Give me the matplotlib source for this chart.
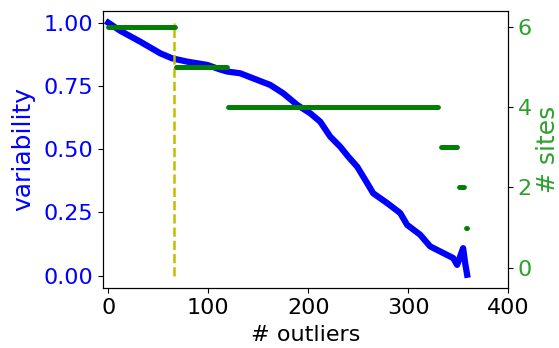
import numpy as np
import matplotlib
matplotlib.use("Agg")
import matplotlib.pyplot as plt

# variability curve
outliers = [0, 12, 32, 52, 64, 79, 99, 112, 119, 132, 145, 162, 175, 189, 202, 212,
            222, 232, 240, 249, 259, 265, 279, 292, 299, 312, 322, 335, 345, 349,
            352, 355, 357, 359]
variability = [1.0, 0.968, 0.925, 0.879, 0.859, 0.846, 0.833, 0.815, 0.807, 0.80,
               0.78, 0.754, 0.721, 0.675, 0.642, 0.609, 0.55, 0.51, 0.471, 0.431,
               0.366, 0.326, 0.287, 0.248, 0.201, 0.162, 0.116, 0.09, 0.07, 0.043,
               0.076, 0.109, 0.05, 0.004]

# number of sites as runs: (level, first outlier, last outlier)
site_levels = [6, 5, 4, 3, 2, 1]
site_start = [0, 68, 120, 333, 351, 358]
site_end = [67, 119, 330, 349, 356, 359]

cutoff = 66

sites_x = np.concatenate([np.arange(a, b + 1) for a, b in zip(site_start, site_end)])
sites_y = np.concatenate([np.full(b - a + 1, lv) for lv, a, b in zip(site_levels, site_start, site_end)])

fig, ax = plt.subplots(figsize=(5.59, 3.48), dpi=100)
fig.subplots_adjust(left=0.184, right=0.909, bottom=0.172, top=0.969)

ax.plot(outliers, variability, color='b', lw=4.5, solid_joinstyle='round')
ax.plot([cutoff, cutoff], [0, 1], color='y', ls='--', lw=1.8)
ax.set_xlim(-5.4, 400)
ax.set_ylim(-0.049, 1.047)
ax.set_yticks([0, 0.25, 0.5, 0.75, 1.0])
ax.set_xticks([0, 100, 200, 300, 400])
ax.set_xlabel('# outliers', fontsize=16, labelpad=5)
ax.set_ylabel('variability', fontsize=18, color='b', labelpad=6)
ax.tick_params(axis='y', labelcolor='b', labelsize=16)
ax.tick_params(axis='x', labelsize=16)

ax2 = ax.twinx()
ax2.plot(sites_x, sites_y, 'o', color='g', ms=3.4, mec='none')
ax2.set_ylim(-0.51, 6.4)
ax2.set_yticks([0, 2, 4, 6])
ax2.set_ylabel('# sites', fontsize=18, color='tab:green', labelpad=3)
ax2.tick_params(axis='y', labelcolor='tab:green', labelsize=16)

fig.savefig('out.png', dpi=100)
